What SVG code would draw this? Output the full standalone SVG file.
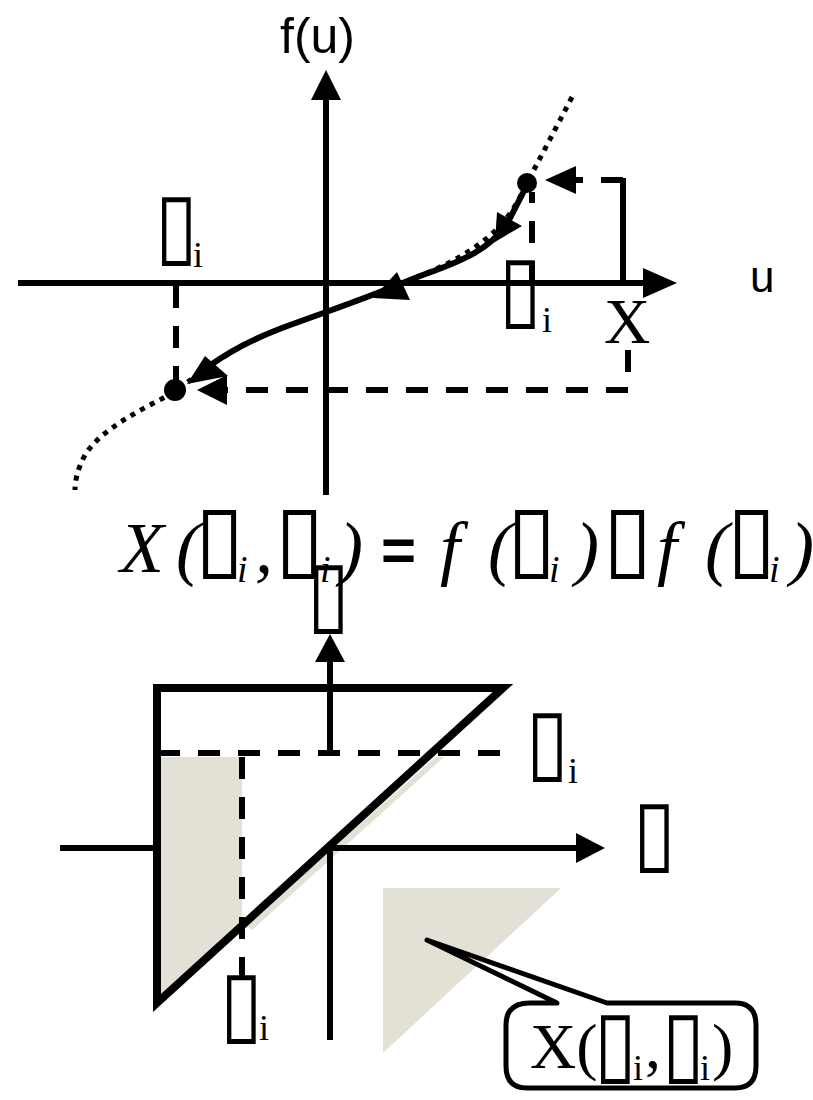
<svg xmlns="http://www.w3.org/2000/svg" width="813" height="1100" viewBox="0 0 813 1100">
<style>
.ax{stroke:#000;stroke-width:6;fill:none}
.dash{stroke:#000;stroke-width:6;fill:none;stroke-dasharray:22 18}
.dot{stroke:#000;stroke-width:5;fill:none;stroke-dasharray:5 6}
.blk{fill:#000;stroke:none}
.sh{fill:#E3E1D5;stroke:none}
.ser{font-family:"Liberation Serif",serif;fill:#000}
.san{font-family:"Liberation Sans",Arial,sans-serif;fill:#000}
.tf{font-family:"DejaVu Sans",sans-serif;font-style:normal;fill:#000;font-size:78px}
.tfe{font-family:"DejaVu Sans",sans-serif;font-style:normal;fill:#000;font-size:90px}
.sub{font-family:"Liberation Serif",serif;fill:#000;font-size:36px}
.subi{font-family:"Liberation Serif",serif;font-style:italic;fill:#000;font-size:38px}
</style>
<rect width="813" height="1100" fill="#fff"/>
<g id="top-axes">
<path class="ax" d="M326,495 V98"/>
<polygon class="blk" points="311,100 326,70 341,100"/>
<path class="ax" d="M18,283 H645"/>
<polygon class="blk" points="643,268 677,283 643,298"/>
</g>
<g id="curve">
<path class="dot" d="M572,97 C555,130 540,158 527,183 C512,215 495,245 420,276 L385,290 C350,304 320,314 290,325 C250,340 225,352 175,392 C140,410 100,430 85,455 C78,468 75,480 75,490"/>
<path class="ax" d="M527,185 L508,222 C490,250 460,262 420,276 L390,288 C350,304 320,314 290,325 C255,338 230,350 198,374"/>
<polygon class="blk" points="495,242 497,212 522,226"/>
<polygon class="blk" points="373,298 397,272 410,300"/>
<polygon class="blk" points="187,384 205,356 228,376"/>
<circle class="blk" cx="527" cy="183" r="10"/>
<circle class="blk" cx="175" cy="390" r="11"/>
</g>
<g id="top-guides">
<path class="dash" d="M176,286 V380"/>
<path class="dash" d="M532,283 V192"/>
<path class="ax" d="M623,283 V178"/>
<path class="dash" d="M623,180 H576"/>
<polygon class="blk" points="545,180 576,166 576,194"/>
<path class="dash" d="M628,350 V390 H226"/>
<polygon class="blk" points="197,390 227,375 227,405"/>
</g>
<g id="top-labels">
<text class="san" x="280" y="53" font-size="50">f(u)</text>
<text class="san" x="750" y="292" font-size="44">u</text>
<text class="tf" transform="translate(155,255) scale(1,1.15)">▯</text>
<text class="sub" x="193" y="267">i</text>
<text class="tf" transform="translate(499,318) scale(1,1.15)">▯</text>
<text class="sub" x="542" y="332">i</text>
<text class="ser" x="604" y="343" font-size="64">X</text>
</g>
<g id="equation">
<text class="ser" font-style="italic" font-size="72" y="572"><tspan x="120">X</tspan><tspan x="176">(</tspan><tspan x="255">,</tspan><tspan x="339">)</tspan><tspan x="440">f</tspan><tspan x="488">(</tspan><tspan x="575">)</tspan><tspan x="657">f</tspan><tspan x="705">(</tspan><tspan x="790">)</tspan></text>
<text class="tfe" x="195" y="568">▯</text>
<text class="subi" x="237" y="582">i</text>
<text class="tfe" x="275" y="568">▯</text>
<text class="subi" x="320" y="582">i</text>
<text class="tfe" x="507" y="568">▯</text>
<text class="subi" x="549" y="582">i</text>
<text class="tfe" x="603" y="568">▯</text>
<text class="tfe" x="727" y="568">▯</text>
<text class="subi" x="769" y="582">i</text>
<text class="san" font-weight="bold" font-size="60" x="381" y="570">=</text>
</g>
<g id="bottom-shading">
<polygon class="sh" points="158,757 242,757 242,927 158,1003"/>
<polygon class="sh" points="436,757 444,757 252,930 246,925"/>
<polygon class="sh" points="383,888 561,888 383,1053"/>
</g>
<g id="bottom-axes">
<path class="ax" d="M330,752 V660"/>
<polygon class="blk" points="315,662 330,634 345,662"/>
<path class="ax" d="M330,848 V1040"/>
<path class="ax" d="M60,848 H157 M330,848 H578"/>
<polygon class="blk" points="576,833 605,848 576,863"/>
</g>
<g id="bottom-guides">
<path class="dash" d="M158,753 H500"/>
<path class="dash" d="M242,757 V997"/>
</g>
<g id="triangle">
<polygon points="157,688 503,688 157,1003" fill="none" stroke="#000" stroke-width="8"/>
</g>
<g id="bottom-labels">
<text class="tf" transform="translate(307,623) scale(1,1.15)">▯</text>
<text class="tf" transform="translate(526,771) scale(1,1.15)">▯</text>
<text class="sub" x="568" y="783">i</text>
<text class="tf" transform="translate(633,862) scale(1,1.15)">▯</text>
<text class="tf" transform="translate(220,1033) scale(1,1.15)">▯</text>
<text class="sub" x="259" y="1040">i</text>
</g>
<g id="callout">
<path d="M530,1003 H557 L427,940 L607,1003 H735 Q756,1003 756,1025 V1066 Q756,1088 735,1088 H527 Q506,1088 506,1066 V1025 Q506,1003 530,1003 Z" fill="#fff" stroke="#000" stroke-width="5" stroke-linejoin="round"/>
<text class="ser" font-size="64" y="1068"><tspan x="530">X(</tspan><tspan x="645">,</tspan><tspan x="712">)</tspan></text>
<text class="tf" transform="translate(594,1073) scale(1,1.15)">▯</text>
<text class="sub" x="633" y="1080">i</text>
<text class="tf" transform="translate(662,1073) scale(1,1.15)">▯</text>
<text class="sub" x="700" y="1080">i</text>
</g>
</svg>
